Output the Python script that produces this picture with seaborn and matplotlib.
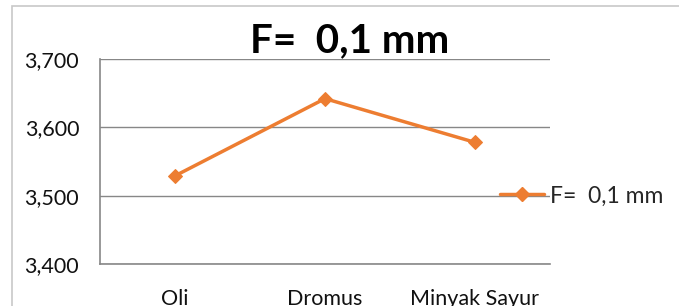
import numpy as np
import pandas as pd
import matplotlib
matplotlib.use('Agg')
import matplotlib.pyplot as plt
import seaborn as sns
from matplotlib.ticker import FuncFormatter, FixedLocator
from matplotlib.patches import Rectangle


categories = ['Oli', 'Dromus', 'Minyak Sayur']
values = [3.529, 3.642, 3.578]
series_name = 'F=  0,1 mm'
y_ticks = [3.4, 3.5, 3.6, 3.7]

ORANGE = '#ED7D31'
GRID = '#878787'

sns.set_style('white')
plt.rcParams['font.family'] = ['Lato', 'DejaVu Sans']

df = pd.DataFrame({'kategori': categories, 'nilai': values, 'seri': series_name})

W, H = 679, 306
fig = plt.figure(figsize=(W / 100, H / 100), dpi=100)
ax = fig.add_axes([100 / W, 1 - 264 / H, 450 / W, 205 / H])

# chart frame (Excel style), cut by the image border
fig.patches.append(Rectangle((12 / W, -0.1), 1.2, 1 - 6 / H + 0.1, transform=fig.transFigure,
                             fill=False, edgecolor='#c8c8c8', linewidth=1.2))

sns.lineplot(data=df, x='kategori', y='nilai', ax=ax, color=ORANGE, marker='D',
             markersize=7, markeredgecolor=ORANGE, linewidth=2.5, label=series_name,
             sort=False, legend=False)

ax.set_xlim(-0.5, 2.5)
ax.set_ylim(3.4, 3.7)
ax.yaxis.set_major_locator(FixedLocator(y_ticks))
ax.yaxis.set_major_formatter(FuncFormatter(lambda v, p: f'{v:.3f}'.replace('.', ',')))
ax.grid(axis='y', color=GRID, linewidth=1)
ax.set_xlabel('')
ax.set_ylabel('')

for side in ['top', 'right']:
    ax.spines[side].set_visible(False)
for side in ['left', 'bottom']:
    ax.spines[side].set_color(GRID)
    ax.spines[side].set_linewidth(1.2)

ax.set_xticks(range(len(categories)))
ax.set_xticklabels(categories)
ax.set_xticks([-0.5, 0.5, 1.5, 2.5], minor=True)
ax.tick_params(axis='x', which='major', length=0, pad=18, labelsize=15.5, colors='#111111')
ax.tick_params(axis='x', which='minor', length=5, color=GRID, width=1)
ax.tick_params(axis='y', length=5, color=GRID, width=1, pad=10, labelsize=15.5, labelcolor='#111111')

fig.text(350 / W, 1 - 52 / H, 'F=  0,1 mm', ha='center', va='baseline',
         fontsize=29, fontweight='bold', color='black')

handles = [plt.Line2D([], [], color=ORANGE, marker='D', markersize=7, linewidth=2.5)]
fig.legend(handles, [series_name], loc='center left', bbox_to_anchor=(500 / W, 1 - 196 / H),
           frameon=False, fontsize=16.5, handlelength=1.9, handletextpad=0.3,
           borderpad=0, borderaxespad=0)

fig.savefig('out.png', dpi=100)
